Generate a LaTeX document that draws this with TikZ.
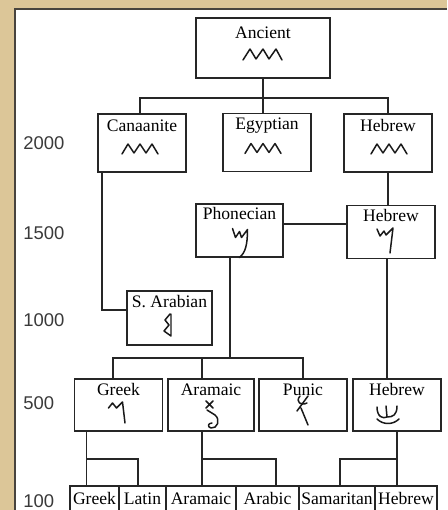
\documentclass[tikz,border=0pt]{standalone}
\usepackage{fontspec}
\setmainfont{Liberation Serif}
\setsansfont{Liberation Sans}
\usetikzlibrary{calc}
\definecolor{parchment}{RGB}{220,198,152}
\definecolor{framegray}{RGB}{72,68,62}
\definecolor{yeargray}{RGB}{58,58,58}
\newcommand{\zigzag}[2]{\draw[glyph,shift={($(#1.center)+(#2,0)$)}]
  (-18,11)--(-12,1)--(-6,10)--(0,1)--(6,10)--(12,1)--(18,11);}

\begin{document}
\begin{tikzpicture}[
  x=0.02cm,y=-0.02cm,
  box/.style={draw=black!85,line width=0.9pt,fill=white,inner sep=0pt},
  wide/.style={box,minimum width=2.68cm,minimum height=1.2cm},
  era/.style={box,minimum width=1.76cm,minimum height=1.16cm},
  mid/.style={box,minimum width=1.75cm,minimum height=1.06cm},
  row/.style={box,minimum width=1.76cm,minimum height=1.04cm},
  lbl/.style={anchor=north,inner sep=0pt,font=\fontsize{10}{12}\selectfont},
  year/.style={anchor=west,inner sep=0pt,font=\sffamily\fontsize{10.5}{12}\selectfont,text=yeargray},
  link/.style={draw=black!85,line width=0.85pt},
  glyph/.style={draw=black!90,line width=0.85pt,line join=round,line cap=round}
]
\useasboundingbox (0,0) rectangle (447,510);
\fill[parchment] (0,0) rectangle (447,510);
\fill[white] (15,9) rectangle (447,510);
\draw[framegray,line width=1.2pt] (15,510) -- (15,9) -- (447,9);
\clip (0,0) rectangle (447,510);

% years
\foreach \yr/\yy in {2000/143,1500/233,1000/320,500/403,100/501}
  \node[year] (yr\yr) at (23,\yy) {\yr};

% boxes
\node[wide] (anc) at (263,48) {};
\node[era] (can) at (142,143) {};
\node[era] (egy) at (267,142.5) {};
\node[era] (heb1) at (388,143) {};
\node[mid] (phn) at (239.5,230.5) {};
\node[mid] (heb2) at (391,232) {};
\node[mid,minimum width=1.7cm,minimum height=1.08cm] (sar) at (169.5,318) {};
\node[row] (grk) at (118.5,405) {};
\node[row,minimum width=1.72cm] (ara) at (211,405) {};
\node[row] (pun) at (303,405) {};
\node[row] (heb3) at (397,405) {};
\foreach \nm/\txt/\xa/\xb in {bgrk/Greek/70/119,blat/Latin/119/166,bara/Aramaic/166/236,
    barb/Arabic/236/299,bsam/Samaritan/299/375,bheb/Hebrew/375/437}
{
  \node[box,minimum height=1cm,minimum width={(\xb-\xa)*0.02cm}] (\nm) at ({(\xa+\xb)/2},511) {};
  \node[lbl] (\nm-t) at ($(\nm.north)+(0,7)$) {\txt};
}

% labels
\node[lbl] (anc-t) at ($(anc.north)+(0,9)$) {Ancient};
\node[lbl] (can-t) at ($(can.north)+(0,6)$) {Canaanite};
\node[lbl] (egy-t) at ($(egy.north)+(0,5)$) {Egyptian};
\node[lbl] (heb1-t) at ($(heb1.north)+(0,6)$) {Hebrew};
\node[lbl] (phn-t) at ($(phn.north)+(0,4)$) {Phonecian};
\node[lbl] (heb2-t) at ($(heb2.north)+(0,4)$) {Hebrew};
\node[lbl] (sar-t) at ($(sar.north)+(0,5)$) {S. Arabian};
\node[lbl] (grk-t) at ($(grk.north)+(0,5)$) {Greek};
\node[lbl] (ara-t) at ($(ara.north)+(0,5)$) {Aramaic};
\node[lbl] (pun-t) at ($(pun.north)+(0,5)$) {Punic};
\node[lbl] (heb3-t) at ($(heb3.north)+(0,5)$) {Hebrew};

% connectors
\coordinate (top-j) at ($(anc.south)+(0,19)$);
\draw[link] (anc.south) -- (anc.south |- egy.north);
\draw[link] ($(can.north)+(-2,0)$) |- (top-j) -| (heb1.north);
\draw[link] (heb1.south) -- (heb1.south |- heb2.north);
\draw[link] ($(can.south west)+(5,0)$) |- ($(sar.west)+(0,-8)$);
\draw[link] ($(phn.east)+(0,-6.5)$) -- ($(heb2.west)+(0,-8)$);
\coordinate (mid-j) at ($(phn.south)+(-9.5,100)$);
\draw[link] ($(phn.south)+(-9.5,0)$) -- (mid-j);
\draw[link] ($(grk.north)+(-5.5,0)$) |- (mid-j) -| (pun.north);
\draw[link] ($(ara.north)+(-9,0)$) coordinate (ara-in) -- (ara-in |- mid-j);
\draw[link] ($(heb2.south)+(-4,0)$) coordinate (h2-out) -- (h2-out |- heb3.north);
\draw[link] ($(grk.south west)+(13,0)$) coordinate (g-out) -- (g-out |- bgrk.north);
\draw[link] ($(g-out)+(0,27)$) -| ($(blat.north)+(-4.5,0)$);
\draw[link] ($(ara.south)+(-9,0)$) coordinate (a-out) -- (a-out |- bara.north);
\draw[link] ($(a-out)+(0,27)$) -| ($(barb.north)+(8.5,0)$);
\draw[link] (heb3.south) -- (heb3.south |- bheb.north);
\draw[link] ($(heb3.south)+(0,27)$) -| ($(bsam.north)+(3,0)$);

% glyphs
\draw[glyph,shift={(anc.center)}] (-20,12)--(-13,1)--(-7,11)--(0,1)--(6,11)--(13,1)--(19,12);
\zigzag{can}{-2}
\zigzag{egy}{-4}
\zigzag{heb1}{1}
\draw[glyph,shift={(phn.center)}] (-7,-2)--(-4,7)--(0,1)--(2,7)--(8,-1)
  .. controls (8,14) and (6,22) .. (0,27);
\draw[glyph,shift={(heb2.center)}] (-14,-3)--(-11,4)--(-7,-1)--(-5,3)--(2,-4)--(-1,21);
\draw[glyph,shift={(sar.center)}] (0.5,-4)--(-4.5,2)--(-0.5,7)--(-5.5,13)--(1.5,18)--(1.5,-4);
\draw[glyph,shift={(grk.center)}] (-10,3)--(-6,-2)--(-2,3)--(4,-3)--(6.5,18);
\draw[glyph,shift={(ara.center)}] (-5,-4)--(2,3) (2,-4)--(-5,3)
  (-4,5)--(4,10) .. controls (10,15) and (6,24) .. (0,23)
  .. controls (-4,22) and (-3,18) .. (1,18);
\draw[glyph,shift={(pun.center)}] (5,-9)--(-6,6)
  (-3,-9) .. controls (-8,-3) and (-2,1) .. (4,-2)
  (-2,3)--(5,20);
\draw[glyph,shift={(heb3.center)}] (-20,2) .. controls (-20,12) and (-14,14) .. (-10,12)
  (-11,1)--(-10,12) .. controls (-4,12) and (0,10) .. (0,1)
  (-20,14) .. controls (-14,20) and (-4,20) .. (2,14);
\end{tikzpicture}
\end{document}
